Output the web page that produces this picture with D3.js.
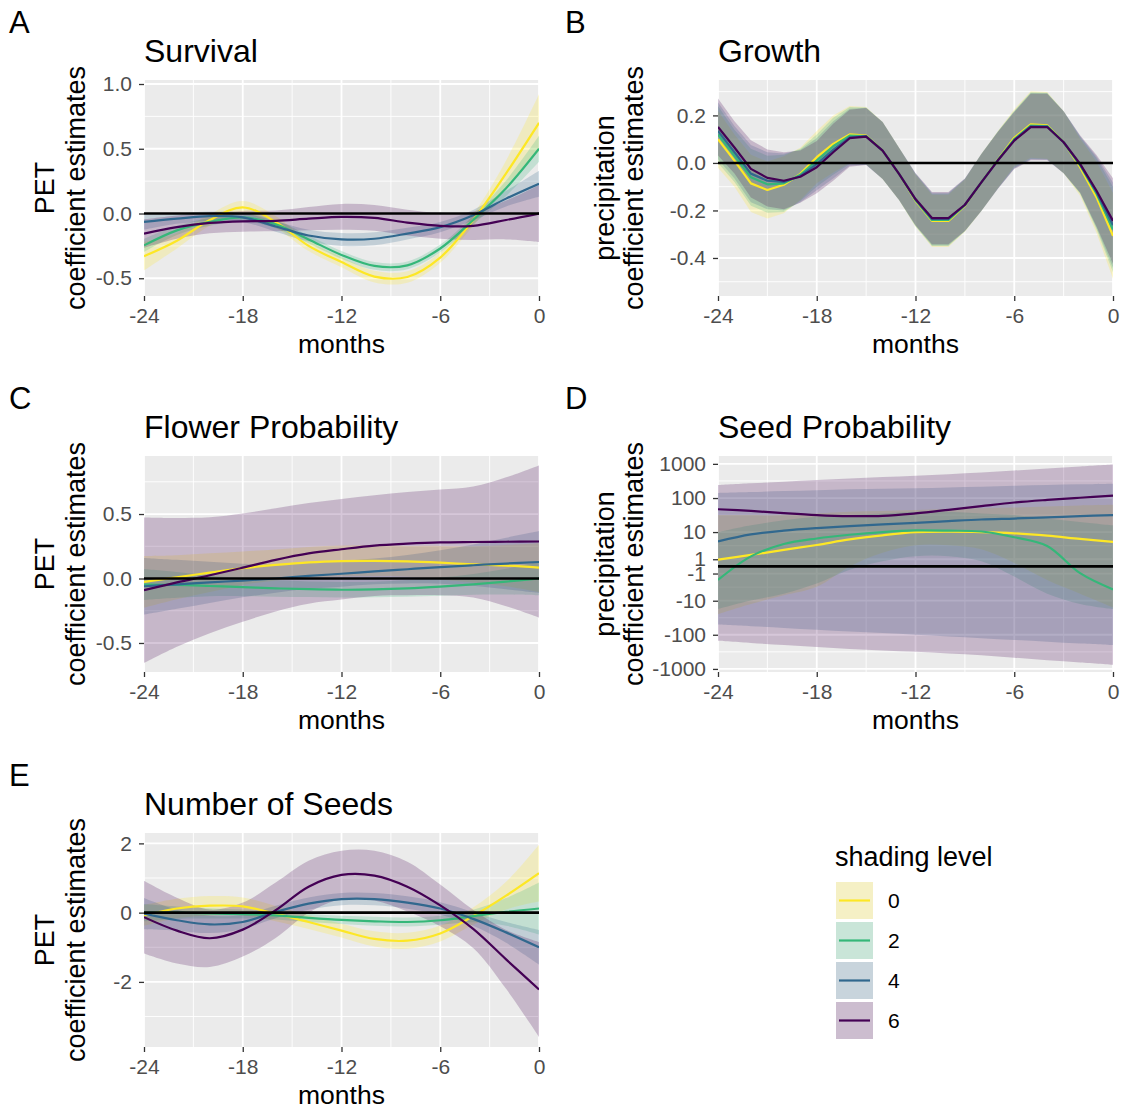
<!DOCTYPE html>
<html>
<head>
<meta charset="utf-8">
<script src="https://cdn.jsdelivr.net/npm/d3@7"></script>
<style>
  body { margin: 0; background: #ffffff; }
  svg { display: block; }
</style>
</head>
<body>
<svg id="chart" width="1122" height="1109"></svg>
<script>
// ---------- shared categories ----------
const levels = ["0", "2", "4", "6"];
const levelColors = ["#FDE725", "#35B779", "#31688E", "#440154"];
const monthsEven = d3.range(-24, 1, 2);   // -24, -22, ..., 0
const monthsAll = d3.range(-24, 1, 1);    // -24, -23, ..., 0
const monthTicks = [-24, -18, -12, -6, 0];

// ---------- A: Survival (PET), per shading level ----------
const survivalFit = [
  [-0.33, -0.21, -0.05, 0.047, -0.065, -0.25, -0.375, -0.487, -0.49, -0.34, -0.05, 0.31, 0.70],
  [-0.246, -0.13, -0.065, -0.03, -0.083, -0.2, -0.32, -0.405, -0.40, -0.27, -0.05, 0.195, 0.50],
  [-0.065, -0.04, -0.02, -0.03, -0.10, -0.17, -0.2, -0.195, -0.155, -0.105, -0.013, 0.115, 0.23],
  [-0.155, -0.105, -0.073, -0.06, -0.057, -0.04, -0.026, -0.034, -0.07, -0.095, -0.095, -0.05, 0.0]
];
const survivalSe = [
  [0.11, 0.06, 0.045, 0.05, 0.045, 0.04, 0.04, 0.045, 0.045, 0.04, 0.045, 0.1, 0.22],
  [0.05, 0.035, 0.03, 0.03, 0.03, 0.03, 0.03, 0.03, 0.03, 0.03, 0.035, 0.06, 0.1],
  [0.06, 0.04, 0.035, 0.035, 0.04, 0.045, 0.05, 0.05, 0.045, 0.04, 0.04, 0.06, 0.1],
  [0.11, 0.09, 0.08, 0.08, 0.08, 0.09, 0.1, 0.1, 0.1, 0.1, 0.11, 0.15, 0.22]
];
const survivalTicks = [-0.5, 0, 0.5, 1.0];

// ---------- B: Growth (precipitation), monthly ----------
const growthFit = [
  [0.10, 0.01, -0.086, -0.114, -0.092, -0.046, 0.024, 0.08, 0.12, 0.115, 0.052, -0.046, -0.159, -0.244, -0.244, -0.18, -0.082, 0.013, 0.106, 0.162, 0.158, 0.087, -0.018, -0.145, -0.307],
  [0.12, 0.03, -0.06, -0.09, -0.086, -0.05, 0.01, 0.07, 0.115, 0.113, 0.052, -0.046, -0.156, -0.24, -0.24, -0.178, -0.082, 0.012, 0.1, 0.157, 0.155, 0.087, -0.01, -0.13, -0.28],
  [0.135, 0.045, -0.045, -0.075, -0.08, -0.055, -0.005, 0.055, 0.108, 0.112, 0.052, -0.046, -0.154, -0.236, -0.236, -0.177, -0.082, 0.011, 0.097, 0.154, 0.153, 0.087, -0.007, -0.123, -0.262],
  [0.151, 0.065, -0.025, -0.063, -0.075, -0.058, -0.018, 0.045, 0.104, 0.111, 0.052, -0.046, -0.152, -0.232, -0.232, -0.176, -0.082, 0.01, 0.094, 0.151, 0.151, 0.087, -0.004, -0.117, -0.244]
];
const growthSe = [0.12, 0.11, 0.12, 0.12, 0.12, 0.11, 0.11, 0.12, 0.12, 0.12, 0.12, 0.11, 0.11, 0.11, 0.11, 0.11, 0.12, 0.12, 0.12, 0.14, 0.14, 0.13, 0.12, 0.15, 0.18];
const growthTicks = [-0.4, -0.2, 0, 0.2];

// ---------- C: Flower Probability (PET) ----------
const flowerFit = [
  [-0.026, 0.01, 0.045, 0.08, 0.105, 0.125, 0.135, 0.137, 0.133, 0.123, 0.11, 0.1, 0.084],
  [-0.047, -0.05, -0.058, -0.067, -0.076, -0.083, -0.087, -0.085, -0.077, -0.063, -0.045, -0.024, 0.0],
  [-0.06, -0.045, -0.03, -0.016, 0.0, 0.02, 0.037, 0.055, 0.072, 0.089, 0.103, 0.116, 0.128],
  [-0.091, -0.03, 0.025, 0.084, 0.145, 0.195, 0.227, 0.255, 0.27, 0.28, 0.283, 0.285, 0.287]
];
const flowerSe = [
  [0.2, 0.17, 0.15, 0.13, 0.12, 0.12, 0.12, 0.12, 0.12, 0.13, 0.14, 0.16, 0.19],
  [0.12, 0.1, 0.08, 0.07, 0.065, 0.06, 0.06, 0.06, 0.065, 0.07, 0.08, 0.1, 0.13],
  [0.22, 0.19, 0.16, 0.13, 0.11, 0.1, 0.1, 0.1, 0.11, 0.13, 0.16, 0.2, 0.24],
  [0.565, 0.5, 0.45, 0.42, 0.4, 0.39, 0.39, 0.39, 0.4, 0.41, 0.43, 0.5, 0.59]
];
const flowerTicks = [-0.5, 0, 0.5];

// ---------- D: Seed Probability (precipitation), pseudo-log axis ----------
const seedProbFit = [
  [0.95, 1.7, 2.7, 4.0, 6.0, 8.0, 9.9, 10.3, 10.0, 9.2, 7.8, 6.2, 5.0],
  [-2.1, 1.45, 4.3, 6.4, 8.3, 10, 11.2, 11, 10.4, 7, 3.7, -0.95, -4.5],
  [5.2, 8.5, 11, 13.1, 15, 16.8, 18.6, 21, 23.5, 25.1, 27, 29.5, 31.6],
  [47, 42, 36, 31.6, 29.5, 30, 35.5, 45, 58, 74, 88, 102, 117]
];
const seedProbLow = [
  [-25, -12.5, -6.9, -3.7, 0, 2.1, 3.9, 3.9, 2.85, 0.46, -2.1, -6.15, -15.8],
  [-17.7, -9.9, -6.15, -2.85, -0.46, 0.7, 1.49, 1.49, 0.7, -1.49, -6.15, -12.5, -17.7],
  [-50, -56, -63, -71, -80, -89, -100, -112, -126, -142, -160, -180, -200],
  [-151, -175, -200, -230, -260, -290, -316, -355, -400, -470, -560, -650, -760]
];
const seedProbHigh = [
  [31.6, 31.6, 31.6, 35.5, 39.8, 41.7, 44.7, 47.9, 50.1, 52.5, 56.2, 60.3, 63.1],
  [9.9, 15.8, 22.3, 28.2, 31.6, 35.5, 39.8, 39.8, 35.5, 31.6, 25.1, 19.9, 15.8],
  [141, 150, 160, 170, 180, 188, 195, 205, 215, 228, 240, 252, 263],
  [240, 270, 300, 335, 370, 410, 447, 500, 560, 640, 730, 840, 955]
];
const seedProbTicks = [-1000, -100, -10, -1, 1, 10, 100, 1000];

// ---------- E: Number of Seeds (PET) ----------
const seedNumFit = [
  [-0.08, 0.12, 0.2, 0.18, -0.03, -0.27, -0.52, -0.76, -0.81, -0.6, -0.1, 0.49, 1.14],
  [0.0, 0.0, -0.02, -0.04, -0.08, -0.15, -0.21, -0.25, -0.27, -0.22, -0.1, 0.02, 0.12],
  [-0.03, -0.22, -0.34, -0.27, 0.02, 0.26, 0.39, 0.39, 0.29, 0.12, -0.18, -0.57, -1.0],
  [-0.13, -0.52, -0.74, -0.49, 0.07, 0.75, 1.09, 1.07, 0.75, 0.21, -0.47, -1.35, -2.22]
];
const seedNumSe = [
  [0.3, 0.28, 0.28, 0.26, 0.22, 0.2, 0.2, 0.22, 0.23, 0.23, 0.25, 0.4, 0.82],
  [0.25, 0.18, 0.15, 0.13, 0.12, 0.12, 0.12, 0.13, 0.13, 0.13, 0.18, 0.4, 0.75],
  [0.45, 0.3, 0.25, 0.2, 0.18, 0.18, 0.18, 0.18, 0.18, 0.18, 0.2, 0.3, 0.5],
  [1.05, 0.95, 0.83, 0.78, 0.8, 0.75, 0.7, 0.72, 0.72, 0.6, 0.55, 0.85, 1.37]
];
const seedNumTicks = [-2, 0, 2];

// ---------- drawing ----------
const FONT = "'Liberation Sans', Arial, Helvetica, sans-serif";
const svg = d3.select("#chart").style("font-family", FONT);
svg.append("rect").attr("width", 1122).attr("height", 1109).attr("fill", "#ffffff");

const RIBBON_ALPHA = 0.22;
const identity = v => v;
const pseudoLog = v => Math.asinh(v / 2) / Math.LN10;   // pseudo-log, sigma 1, base 10
const smooth = d3.curveCatmullRom.alpha(0.5);
const fmt1 = d => d.toFixed(1);

const withSe = (fit, se) => ({
  low: fit.map((s, i) => s.map((v, j) => v - (Array.isArray(se[0]) ? se[i][j] : se[j]))),
  high: fit.map((s, i) => s.map((v, j) => v + (Array.isArray(se[0]) ? se[i][j] : se[j])))
});

const colLeft = { x0: 144, x1: 539, letterX: 9, yTitleX: [54, 85] };
const colRight = { x0: 718, x1: 1113, letterX: 565, yTitleX: [614, 643] };
const rows = [{ y0: 80, y1: 296 }, { y0: 456, y1: 672 }, { y0: 833, y1: 1047 }];

const panels = [
  Object.assign({ letter: "A", title: "Survival", yTitle: ["PET", "coefficient estimates"],
    months: monthsEven, fit: survivalFit, curve: smooth, yDomain: [-0.637, 1.031],
    ticks: survivalTicks, fmt: fmt1, tf: identity }, colLeft, rows[0], withSe(survivalFit, survivalSe)),
  Object.assign({ letter: "B", title: "Growth", yTitle: ["precipitation", "coefficient estimates"],
    months: monthsAll, fit: growthFit, curve: d3.curveLinear, yDomain: [-0.56, 0.349],
    ticks: growthTicks, fmt: fmt1, tf: identity }, colRight, rows[0], withSe(growthFit, growthSe)),
  Object.assign({ letter: "C", title: "Flower Probability", yTitle: ["PET", "coefficient estimates"],
    months: monthsEven, fit: flowerFit, curve: smooth, yDomain: [-0.725, 0.95],
    ticks: flowerTicks, fmt: fmt1, tf: identity }, colLeft, rows[1], withSe(flowerFit, flowerSe)),
  Object.assign({ letter: "D", title: "Seed Probability", yTitle: ["precipitation", "coefficient estimates"],
    months: monthsEven, fit: seedProbFit, curve: smooth, yDomain: [-3.09, 3.23],
    ticks: seedProbTicks, fmt: d => String(d), tf: pseudoLog,
    low: seedProbLow, high: seedProbHigh }, colRight, rows[1]),
  Object.assign({ letter: "E", title: "Number of Seeds", yTitle: ["PET", "coefficient estimates"],
    months: monthsEven, fit: seedNumFit, curve: smooth, yDomain: [-3.88, 2.3],
    ticks: seedNumTicks, fmt: d => String(d), tf: identity }, colLeft, rows[2], withSe(seedNumFit, seedNumSe))
];

// minor breaks halfway between majors (in transformed space), one step beyond each end
function minorBreaks(majors, domain) {
  const out = d3.pairs(majors).map(([a, b]) => (a + b) / 2);
  if (majors.length > 1) {
    const s0 = majors[1] - majors[0], s1 = majors[majors.length - 1] - majors[majors.length - 2];
    out.push(majors[0] - s0 / 2, majors[majors.length - 1] + s1 / 2);
  }
  return out.filter(v => v > Math.min(...domain) && v < Math.max(...domain));
}

panels.forEach((p, pi) => {
  const g = svg.append("g");
  const x = d3.scaleLinear().domain([-24, 0]).range([p.x0, p.x1]);
  const yLin = d3.scaleLinear().domain(p.yDomain).range([p.y1, p.y0]);
  const y = v => yLin(p.tf(v));
  const W = p.x1 - p.x0, H = p.y1 - p.y0;

  // panel background and grid
  g.append("rect").attr("x", p.x0).attr("y", p.y0).attr("width", W).attr("height", H).attr("fill", "#EBEBEB");
  const majorT = p.ticks.map(p.tf);
  minorBreaks(majorT, p.yDomain).forEach(t => {
    g.append("line").attr("x1", p.x0).attr("x2", p.x1).attr("y1", yLin(t)).attr("y2", yLin(t))
      .attr("stroke", "#fff").attr("stroke-width", 0.9);
  });
  minorBreaks(monthTicks, [-24, 0]).forEach(m => {
    g.append("line").attr("x1", x(m)).attr("x2", x(m)).attr("y1", p.y0).attr("y2", p.y1)
      .attr("stroke", "#fff").attr("stroke-width", 0.9);
  });
  majorT.forEach(t => {
    g.append("line").attr("x1", p.x0).attr("x2", p.x1).attr("y1", yLin(t)).attr("y2", yLin(t))
      .attr("stroke", "#fff").attr("stroke-width", 1.8);
  });
  monthTicks.forEach(m => {
    g.append("line").attr("x1", x(m)).attr("x2", x(m)).attr("y1", p.y0).attr("y2", p.y1)
      .attr("stroke", "#fff").attr("stroke-width", 1.8);
  });

  // clipped data layer
  const clipId = "clip" + pi;
  svg.append("clipPath").attr("id", clipId).append("rect")
    .attr("x", p.x0).attr("y", p.y0).attr("width", W).attr("height", H);
  const data = g.append("g").attr("clip-path", `url(#${clipId})`);

  const area = d3.area().curve(p.curve)
    .x(d => x(d.m)).y0(d => y(d.lo)).y1(d => y(d.hi));
  const line = d3.line().curve(p.curve).x(d => x(d.m)).y(d => y(d.v));

  levels.forEach((lv, i) => {
    const pts = p.months.map((m, j) => ({ m, lo: p.low[i][j], hi: p.high[i][j] }));
    data.append("path").attr("d", area(pts)).attr("fill", levelColors[i]).attr("fill-opacity", RIBBON_ALPHA);
  });
  levels.forEach((lv, i) => {
    const pts = p.months.map((m, j) => ({ m, v: p.fit[i][j] }));
    data.append("path").attr("d", line(pts)).attr("fill", "none")
      .attr("stroke", levelColors[i]).attr("stroke-width", 2.2).attr("stroke-linejoin", "round");
  });
  // zero reference line
  data.append("line").attr("x1", p.x0).attr("x2", p.x1).attr("y1", y(0)).attr("y2", y(0))
    .attr("stroke", "#000").attr("stroke-width", 2.6);

  // axes
  const xAxis = d3.axisBottom(x).tickValues(monthTicks).tickSize(5).tickPadding(7).tickFormat(d => String(d));
  const yAxis = d3.axisLeft(yLin).tickValues(majorT).tickSize(5).tickPadding(7)
    .tickFormat((d, i) => p.fmt(p.ticks[i]));
  const gx = g.append("g").attr("transform", `translate(0,${p.y1})`).call(xAxis);
  const gy = g.append("g").attr("transform", `translate(${p.x0},0)`).call(yAxis);
  [gx, gy].forEach(a => {
    a.select(".domain").remove();
    a.selectAll(".tick line").attr("stroke", "#333333").attr("stroke-width", 1.3);
    a.selectAll(".tick text").attr("fill", "#4D4D4D").style("font-size", "21px").style("font-family", FONT);
  });

  // titles
  g.append("text").attr("x", p.letterX).attr("y", p.y0 - 47).text(p.letter)
    .style("font-size", "31px").attr("fill", "#000");
  g.append("text").attr("x", p.x0).attr("y", p.y0 - 18).text(p.title)
    .style("font-size", "32px").attr("fill", "#000");
  g.append("text").attr("x", (p.x0 + p.x1) / 2).attr("y", p.y1 + 57).attr("text-anchor", "middle")
    .text("months").style("font-size", "26.5px").attr("fill", "#000");
  const cy = (p.y0 + p.y1) / 2;
  p.yTitle.forEach((t, k) => {
    const bx = p.yTitleX[k];
    g.append("text").attr("x", bx).attr("y", cy).attr("text-anchor", "middle")
      .attr("transform", `rotate(-90,${bx},${cy})`)
      .text(t).style("font-size", "27px").attr("fill", "#000");
  });
});

// ---------- legend ----------
const lg = svg.append("g");
lg.append("text").attr("x", 835).attr("y", 866).text("shading level")
  .style("font-size", "27px").attr("fill", "#000");
levels.forEach((lv, i) => {
  const top = 882 + i * 40;
  lg.append("rect").attr("x", 836).attr("y", top).attr("width", 37).attr("height", 37).attr("fill", "#F2F2F2");
  lg.append("rect").attr("x", 836).attr("y", top).attr("width", 37).attr("height", 37)
    .attr("fill", levelColors[i]).attr("fill-opacity", RIBBON_ALPHA);
  lg.append("line").attr("x1", 839).attr("x2", 870).attr("y1", top + 18.5).attr("y2", top + 18.5)
    .attr("stroke", levelColors[i]).attr("stroke-width", 2.2);
  lg.append("text").attr("x", 888).attr("y", top + 18.5).attr("dy", "0.36em").text(lv)
    .style("font-size", "21px").attr("fill", "#000");
});
</script>
</body>
</html>
